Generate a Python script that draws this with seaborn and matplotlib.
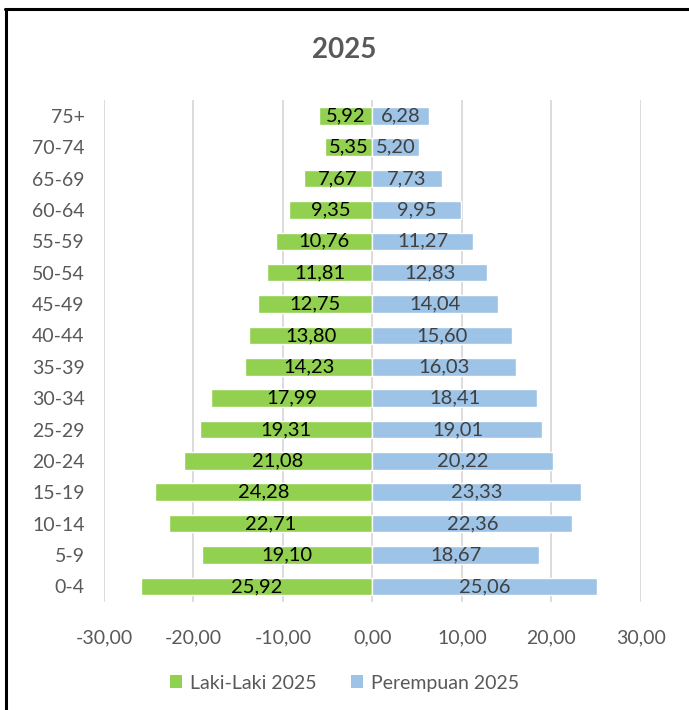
import pandas as pd
import numpy as np
import seaborn as sns
import matplotlib.pyplot as plt
from matplotlib.lines import Line2D
from matplotlib.patches import Patch

# kelompok umur, dari atas (75+) ke bawah (0-4)
umur = ['75+', '70-74', '65-69', '60-64', '55-59', '50-54', '45-49', '40-44',
        '35-39', '30-34', '25-29', '20-24', '15-19', '10-14', '5-9', '0-4']
laki = [5.92, 5.35, 7.67, 9.35, 10.76, 11.81, 12.75, 13.80,
        14.23, 17.99, 19.31, 21.08, 24.28, 22.71, 19.10, 25.92]
perempuan = [6.28, 5.20, 7.73, 9.95, 11.27, 12.83, 14.04, 15.60,
             16.03, 18.41, 19.01, 20.22, 23.33, 22.36, 18.67, 25.06]
seri = ['Laki-Laki 2025', 'Perempuan 2025']
warna = ['#92D050', '#9DC3E6']

df = pd.concat([
    pd.DataFrame({'Umur': umur, 'Nilai': [-v for v in laki], 'Seri': seri[0]}),
    pd.DataFrame({'Umur': umur, 'Nilai': perempuan, 'Seri': seri[1]}),
])

sns.set_style('white')
plt.rcParams['font.family'] = ['Lato', 'DejaVu Sans']

fig = plt.figure(figsize=(6.89, 7.10), dpi=100)
ax = fig.add_axes([0.151, 0.152, 0.779, 0.707])

sns.barplot(data=df, y='Umur', x='Nilai', hue='Seri', order=umur,
            hue_order=seri, palette=warna, dodge=False, width=0.56,
            orient='h', ax=ax, legend=False, saturation=1)

# label nilai di tengah batang
for cont, vals, col in zip(ax.containers, [laki, perempuan], ['#000000', '#404040']):
    ax.bar_label(cont, labels=[f'{v:.2f}'.replace('.', ',') for v in vals],
                 label_type='center', fontsize=14.5, color=col)

ax.set_xlim(-30, 30)
ax.set_ylim(15.5, -0.5)
ax.set_xticks(np.arange(-30, 31, 10))
ax.set_xticklabels([f'{t:.2f}'.replace('.', ',') for t in np.arange(-30, 31, 10)])
ax.grid(axis='x', color='#D9D9D9', linewidth=1.3)
ax.set_axisbelow(True)
for s in ax.spines.values():
    s.set_visible(False)
ax.tick_params(axis='x', length=0, pad=20, labelsize=14, labelcolor='#595959')
ax.tick_params(axis='y', length=0, pad=14, labelsize=14, labelcolor='#595959')
ax.set_xlabel('')
ax.set_ylabel('')

fig.text(0.5, 0.929, '2025', ha='center', va='center', fontsize=20,
         fontweight='bold', color='#595959')

handles = [Patch(facecolor=c, edgecolor='none') for c in warna]
fig.legend(handles, seri, loc='center', bbox_to_anchor=(0.5, 0.038), ncol=2,
           frameon=False, fontsize=14, labelcolor='#595959',
           handlelength=0.6, handleheight=0.6, columnspacing=1.8, handletextpad=0.4)

# bingkai luar (kiri dan atas)
fig.add_artist(Line2D([0.008, 0.008], [0.0, 0.988], color='black', linewidth=2.2,
                      transform=fig.transFigure))
fig.add_artist(Line2D([0.007, 1.0], [0.987, 0.987], color='black', linewidth=2.2,
                      transform=fig.transFigure))

fig.savefig('out.png', dpi=100)
